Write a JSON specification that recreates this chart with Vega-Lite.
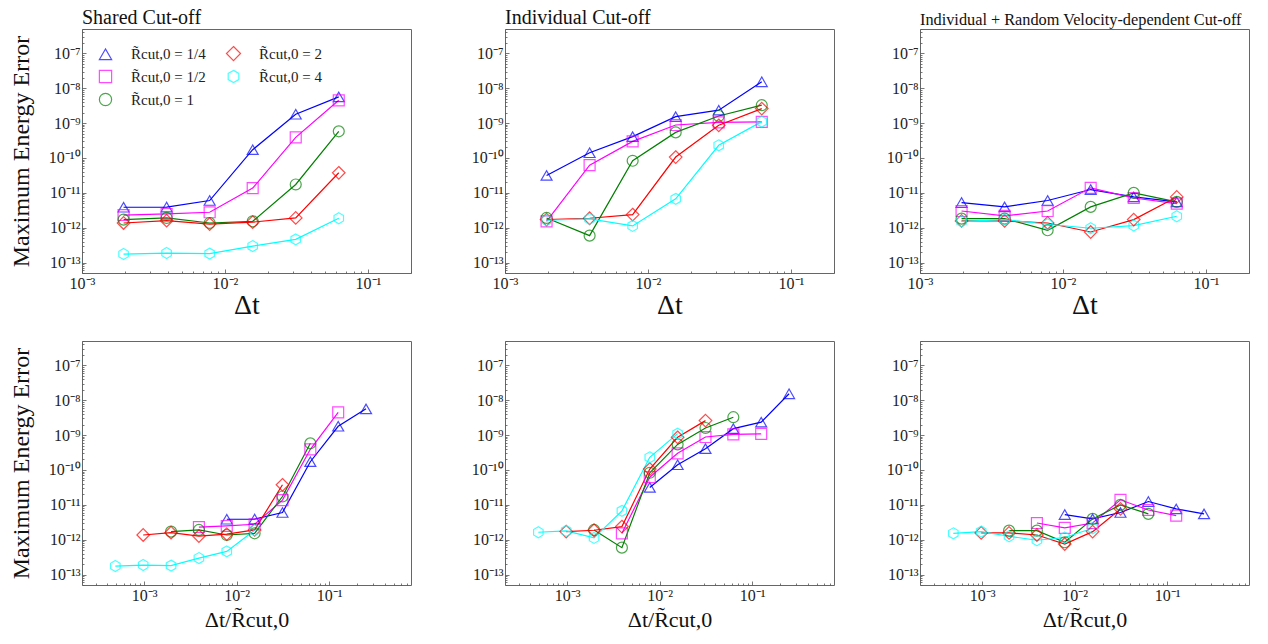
{
"$schema": "https://vega.github.io/schema/vega-lite/v6.json",
"background": "white",
"padding": {"left": 8, "top": 7, "right": 5, "bottom": 2},
"datasets": {"d": [
{"m":"s","R":"1/4","dt":0.001953125,"x2":0.0078125,"e":3.85e-12},
{"m":"s","R":"1/4","dt":0.00390625,"x2":0.015625,"e":3.9e-12},
{"m":"s","R":"1/4","dt":0.0078125,"x2":0.03125,"e":6.0e-12},
{"m":"s","R":"1/4","dt":0.015625,"x2":0.0625,"e":1.72e-10},
{"m":"s","R":"1/4","dt":0.03125,"x2":0.125,"e":1.79e-9},
{"m":"s","R":"1/4","dt":0.0625,"x2":0.25,"e":5.65e-9},
{"m":"s","R":"1/2","dt":0.001953125,"x2":0.00390625,"e":2.3e-12},
{"m":"s","R":"1/2","dt":0.00390625,"x2":0.0078125,"e":2.47e-12},
{"m":"s","R":"1/2","dt":0.0078125,"x2":0.015625,"e":2.76e-12},
{"m":"s","R":"1/2","dt":0.015625,"x2":0.03125,"e":1.36e-11},
{"m":"s","R":"1/2","dt":0.03125,"x2":0.0625,"e":3.9e-10},
{"m":"s","R":"1/2","dt":0.0625,"x2":0.125,"e":4.5e-9},
{"m":"s","R":"1","dt":0.001953125,"x2":0.001953125,"e":1.7e-12},
{"m":"s","R":"1","dt":0.00390625,"x2":0.00390625,"e":1.9e-12},
{"m":"s","R":"1","dt":0.0078125,"x2":0.0078125,"e":1.36e-12},
{"m":"s","R":"1","dt":0.015625,"x2":0.015625,"e":1.52e-12},
{"m":"s","R":"1","dt":0.03125,"x2":0.03125,"e":1.73e-11},
{"m":"s","R":"1","dt":0.0625,"x2":0.0625,"e":5.8e-10},
{"m":"s","R":"2","dt":0.001953125,"x2":0.0009765625,"e":1.36e-12},
{"m":"s","R":"2","dt":0.00390625,"x2":0.001953125,"e":1.58e-12},
{"m":"s","R":"2","dt":0.0078125,"x2":0.00390625,"e":1.27e-12},
{"m":"s","R":"2","dt":0.015625,"x2":0.0078125,"e":1.44e-12},
{"m":"s","R":"2","dt":0.03125,"x2":0.015625,"e":1.9e-12},
{"m":"s","R":"2","dt":0.0625,"x2":0.03125,"e":3.75e-11},
{"m":"s","R":"4","dt":0.001953125,"x2":0.00048828125,"e":1.75e-13},
{"m":"s","R":"4","dt":0.00390625,"x2":0.0009765625,"e":1.87e-13},
{"m":"s","R":"4","dt":0.0078125,"x2":0.001953125,"e":1.8e-13},
{"m":"s","R":"4","dt":0.015625,"x2":0.00390625,"e":2.96e-13},
{"m":"s","R":"4","dt":0.03125,"x2":0.0078125,"e":4.6e-13},
{"m":"s","R":"4","dt":0.0625,"x2":0.015625,"e":1.86e-12},
{"m":"i","R":"1/4","dt":0.001953125,"x2":0.0078125,"e":3.14e-11},
{"m":"i","R":"1/4","dt":0.00390625,"x2":0.015625,"e":1.41e-10},
{"m":"i","R":"1/4","dt":0.0078125,"x2":0.03125,"e":4.08e-10},
{"m":"i","R":"1/4","dt":0.015625,"x2":0.0625,"e":1.53e-9},
{"m":"i","R":"1/4","dt":0.03125,"x2":0.125,"e":2.34e-9},
{"m":"i","R":"1/4","dt":0.0625,"x2":0.25,"e":1.53e-8},
{"m":"i","R":"1/2","dt":0.001953125,"x2":0.00390625,"e":1.52e-12},
{"m":"i","R":"1/2","dt":0.00390625,"x2":0.0078125,"e":6.2e-11},
{"m":"i","R":"1/2","dt":0.0078125,"x2":0.015625,"e":2.99e-10},
{"m":"i","R":"1/2","dt":0.015625,"x2":0.03125,"e":8.8e-10},
{"m":"i","R":"1/2","dt":0.03125,"x2":0.0625,"e":1.05e-9},
{"m":"i","R":"1/2","dt":0.0625,"x2":0.125,"e":1.08e-9},
{"m":"i","R":"1","dt":0.001953125,"x2":0.001953125,"e":1.9e-12},
{"m":"i","R":"1","dt":0.00390625,"x2":0.00390625,"e":5.9e-13},
{"m":"i","R":"1","dt":0.0078125,"x2":0.0078125,"e":8.3e-11},
{"m":"i","R":"1","dt":0.015625,"x2":0.015625,"e":5.4e-10},
{"m":"i","R":"1","dt":0.03125,"x2":0.03125,"e":1.6e-9},
{"m":"i","R":"1","dt":0.0625,"x2":0.0625,"e":3.26e-9},
{"m":"i","R":"2","dt":0.001953125,"x2":0.0009765625,"e":1.7e-12},
{"m":"i","R":"2","dt":0.00390625,"x2":0.001953125,"e":1.86e-12},
{"m":"i","R":"2","dt":0.0078125,"x2":0.00390625,"e":2.37e-12},
{"m":"i","R":"2","dt":0.015625,"x2":0.0078125,"e":1.06e-10},
{"m":"i","R":"2","dt":0.03125,"x2":0.015625,"e":8.65e-10},
{"m":"i","R":"2","dt":0.0625,"x2":0.03125,"e":2.6e-9},
{"m":"i","R":"4","dt":0.001953125,"x2":0.00048828125,"e":1.63e-12},
{"m":"i","R":"4","dt":0.00390625,"x2":0.0009765625,"e":1.78e-12},
{"m":"i","R":"4","dt":0.0078125,"x2":0.001953125,"e":1.12e-12},
{"m":"i","R":"4","dt":0.015625,"x2":0.00390625,"e":6.7e-12},
{"m":"i","R":"4","dt":0.03125,"x2":0.0078125,"e":2.3e-10},
{"m":"i","R":"4","dt":0.0625,"x2":0.015625,"e":1.1e-9},
{"m":"r","R":"1/4","dt":0.001953125,"x2":0.0078125,"e":5.25e-12},
{"m":"r","R":"1/4","dt":0.00390625,"x2":0.015625,"e":3.94e-12},
{"m":"r","R":"1/4","dt":0.0078125,"x2":0.03125,"e":6.0e-12},
{"m":"r","R":"1/4","dt":0.015625,"x2":0.0625,"e":1.24e-11},
{"m":"r","R":"1/4","dt":0.03125,"x2":0.125,"e":7.6e-12},
{"m":"r","R":"1/4","dt":0.0625,"x2":0.25,"e":5.5e-12},
{"m":"r","R":"1/2","dt":0.001953125,"x2":0.00390625,"e":3.0e-12},
{"m":"r","R":"1/2","dt":0.00390625,"x2":0.0078125,"e":2.17e-12},
{"m":"r","R":"1/2","dt":0.0078125,"x2":0.015625,"e":3.0e-12},
{"m":"r","R":"1/2","dt":0.015625,"x2":0.03125,"e":1.39e-11},
{"m":"r","R":"1/2","dt":0.03125,"x2":0.0625,"e":7.1e-12},
{"m":"r","R":"1/2","dt":0.0625,"x2":0.125,"e":4.9e-12},
{"m":"r","R":"1","dt":0.001953125,"x2":0.001953125,"e":1.82e-12},
{"m":"r","R":"1","dt":0.00390625,"x2":0.00390625,"e":1.82e-12},
{"m":"r","R":"1","dt":0.0078125,"x2":0.0078125,"e":8.4e-13},
{"m":"r","R":"1","dt":0.015625,"x2":0.015625,"e":3.94e-12},
{"m":"r","R":"1","dt":0.03125,"x2":0.03125,"e":9.95e-12},
{"m":"r","R":"1","dt":0.0625,"x2":0.0625,"e":5.5e-12},
{"m":"r","R":"2","dt":0.001953125,"x2":0.0009765625,"e":1.56e-12},
{"m":"r","R":"2","dt":0.00390625,"x2":0.001953125,"e":1.56e-12},
{"m":"r","R":"2","dt":0.0078125,"x2":0.00390625,"e":1.36e-12},
{"m":"r","R":"2","dt":0.015625,"x2":0.0078125,"e":7.5e-13},
{"m":"r","R":"2","dt":0.03125,"x2":0.015625,"e":1.7e-12},
{"m":"r","R":"2","dt":0.0625,"x2":0.03125,"e":7.6e-12},
{"m":"r","R":"4","dt":0.001953125,"x2":0.00048828125,"e":1.52e-12},
{"m":"r","R":"4","dt":0.00390625,"x2":0.0009765625,"e":1.7e-12},
{"m":"r","R":"4","dt":0.0078125,"x2":0.001953125,"e":1.25e-12},
{"m":"r","R":"4","dt":0.015625,"x2":0.00390625,"e":9.6e-13},
{"m":"r","R":"4","dt":0.03125,"x2":0.0078125,"e":1.15e-12},
{"m":"r","R":"4","dt":0.0625,"x2":0.015625,"e":2.12e-12}
]},
"data": {"name": "d"},
"config": {
  "view": {"stroke": "#666", "strokeWidth": 1},
  "axis": {"domain": false, "grid": false, "tickColor": "#555", "tickWidth": 0.8, "labelFont": "Liberation Serif", "labelFontSize": 16, "labelColor": "#222", "titleFont": "Liberation Serif", "titleFontWeight": "normal", "titleColor": "#111"},
  "title": {"font": "Liberation Serif", "fontWeight": "normal", "color": "#111", "anchor": "start", "offset": -7, "frame": "group"},
  "legend": {"labelFont": "Liberation Serif", "labelFontSize": 15, "labelColor": "#222"}
},
"vconcat": [
{"hconcat": [
{
 "width": 329, "height": 244,
 "title": {"text": "Shared Cut-off", "fontSize": 20},
 "transform": [{"filter": "datum.m === 's'"}],
 "encoding": {
  "x": {"field": "dt", "type": "quantitative", "scale": {"type": "log", "domain": [0.001, 0.2], "nice": false},
        "axis": {"title": "Δt", "titleFontSize": 28, "values": [0.001,0.002,0.003,0.004,0.005,0.006,0.007,0.008,0.009,0.01,0.02,0.03,0.04,0.05,0.06,0.07,0.08,0.09,0.1,0.2],
                 "labelExpr": "abs(log(datum.value)/LN10 - round(log(datum.value)/LN10)) < 0.001 ? '10⁻' + (round(-log(datum.value)/LN10) >= 10 ? '¹' : '') + substring('⁰¹²³⁴⁵⁶⁷⁸⁹', round(-log(datum.value)/LN10) % 10, round(-log(datum.value)/LN10) % 10 + 1) : ''",
                 "tickSize": {"condition": {"test": "abs(log(datum.value)/LN10 - round(log(datum.value)/LN10)) < 0.001", "value": -4}, "value": -2},
                 "labelFlush": false, "labelOverlap": false, "labelPadding": 6, "titlePadding": -2}},
  "y": {"field": "e", "type": "quantitative", "scale": {"type": "log", "domain": [5e-14, 5e-7], "nice": false},
        "axis": {"title": "Maximum Energy Error", "titleFontSize": 24, "titlePadding": 15, "values": [5e-14,6e-14,7e-14,8e-14,9e-14,1e-13,2e-13,3e-13,4e-13,5e-13,6e-13,7e-13,8e-13,9e-13,1e-12,2e-12,3e-12,4e-12,5e-12,6e-12,7e-12,8e-12,9e-12,1e-11,2e-11,3e-11,4e-11,5e-11,6e-11,7e-11,8e-11,9e-11,1e-10,2e-10,3e-10,4e-10,5e-10,6e-10,7e-10,8e-10,9e-10,1e-9,2e-9,3e-9,4e-9,5e-9,6e-9,7e-9,8e-9,9e-9,1e-8,2e-8,3e-8,4e-8,5e-8,6e-8,7e-8,8e-8,9e-8,1e-7,2e-7,3e-7,4e-7,5e-7],
                 "labelExpr": "abs(log(datum.value)/LN10 - round(log(datum.value)/LN10)) < 0.001 ? '10⁻' + (round(-log(datum.value)/LN10) >= 10 ? '¹' : '') + substring('⁰¹²³⁴⁵⁶⁷⁸⁹', round(-log(datum.value)/LN10) % 10, round(-log(datum.value)/LN10) % 10 + 1) : ''",
                 "tickSize": {"condition": {"test": "abs(log(datum.value)/LN10 - round(log(datum.value)/LN10)) < 0.001", "value": -4}, "value": -2},
                 "labelFlush": false, "labelOverlap": false, "labelPadding": 6}},
  "color": {"field": "R", "type": "nominal", "scale": {"domain": ["1/4","1/2","1","2","4"], "range": ["#0000ff","#ff00ff","#008000","#ff0000","#00ffff"]},
            "legend": {"title": null, "orient": "top-left", "columns": 2, "offset": 17, "padding": 0, "symbolSize": 150, "symbolStrokeWidth": 1.2, "symbolOffset": -1, "labelOffset": 18, "columnPadding": 18, "rowPadding": 4,
                       "labelExpr": "'R̃cut,0 = ' + datum.label"}}
 },
 "layer": [
  {"mark": {"type": "line", "strokeWidth": 1.2}},
  {"mark": {"type": "point", "filled": false, "strokeWidth": 1.2, "size": 120},
   "encoding": {"shape": {"field": "R", "type": "nominal", "scale": {"domain": ["1/4","1/2","1","2","4"], "range": ["triangle-up","square","circle","M0,-1.15L1.15,0L0,1.15L-1.15,0Z","M0,-1L0.866,-0.5L0.866,0.5L0,1L-0.866,0.5L-0.866,-0.5Z"]}, "legend": null}}}
 ]
},
{"hconcat": [
{
 "width": 329, "height": 244,
 "title": {"text": "Individual Cut-off", "fontSize": 20},
 "transform": [{"filter": "datum.m === 'i'"}],
 "encoding": {
  "x": {"field": "dt", "type": "quantitative", "scale": {"type": "log", "domain": [0.001, 0.2], "nice": false},
        "axis": {"title": "Δt", "titleFontSize": 28, "values": [0.001,0.002,0.003,0.004,0.005,0.006,0.007,0.008,0.009,0.01,0.02,0.03,0.04,0.05,0.06,0.07,0.08,0.09,0.1,0.2],
                 "labelExpr": "abs(log(datum.value)/LN10 - round(log(datum.value)/LN10)) < 0.001 ? '10⁻' + (round(-log(datum.value)/LN10) >= 10 ? '¹' : '') + substring('⁰¹²³⁴⁵⁶⁷⁸⁹', round(-log(datum.value)/LN10) % 10, round(-log(datum.value)/LN10) % 10 + 1) : ''",
                 "tickSize": {"condition": {"test": "abs(log(datum.value)/LN10 - round(log(datum.value)/LN10)) < 0.001", "value": -4}, "value": -2},
                 "labelFlush": false, "labelOverlap": false, "labelPadding": 6, "titlePadding": -2}},
  "y": {"field": "e", "type": "quantitative", "scale": {"type": "log", "domain": [5e-14, 5e-7], "nice": false},
        "axis": {"title": null, "values": [5e-14,6e-14,7e-14,8e-14,9e-14,1e-13,2e-13,3e-13,4e-13,5e-13,6e-13,7e-13,8e-13,9e-13,1e-12,2e-12,3e-12,4e-12,5e-12,6e-12,7e-12,8e-12,9e-12,1e-11,2e-11,3e-11,4e-11,5e-11,6e-11,7e-11,8e-11,9e-11,1e-10,2e-10,3e-10,4e-10,5e-10,6e-10,7e-10,8e-10,9e-10,1e-9,2e-9,3e-9,4e-9,5e-9,6e-9,7e-9,8e-9,9e-9,1e-8,2e-8,3e-8,4e-8,5e-8,6e-8,7e-8,8e-8,9e-8,1e-7,2e-7,3e-7,4e-7,5e-7],
                 "labelExpr": "abs(log(datum.value)/LN10 - round(log(datum.value)/LN10)) < 0.001 ? '10⁻' + (round(-log(datum.value)/LN10) >= 10 ? '¹' : '') + substring('⁰¹²³⁴⁵⁶⁷⁸⁹', round(-log(datum.value)/LN10) % 10, round(-log(datum.value)/LN10) % 10 + 1) : ''",
                 "tickSize": {"condition": {"test": "abs(log(datum.value)/LN10 - round(log(datum.value)/LN10)) < 0.001", "value": -4}, "value": -2},
                 "labelFlush": false, "labelOverlap": false, "labelPadding": 6}},
  "color": {"field": "R", "type": "nominal", "scale": {"domain": ["1/4","1/2","1","2","4"], "range": ["#0000ff","#ff00ff","#008000","#ff0000","#00ffff"]}, "legend": null}
 },
 "layer": [
  {"mark": {"type": "line", "strokeWidth": 1.2}},
  {"mark": {"type": "point", "filled": false, "strokeWidth": 1.2, "size": 120},
   "encoding": {"shape": {"field": "R", "type": "nominal", "scale": {"domain": ["1/4","1/2","1","2","4"], "range": ["triangle-up","square","circle","M0,-1.15L1.15,0L0,1.15L-1.15,0Z","M0,-1L0.866,-0.5L0.866,0.5L0,1L-0.866,0.5L-0.866,-0.5Z"]}, "legend": null}}}
 ]
},
{
 "width": 329, "height": 244,
 "title": {"text": "Individual + Random Velocity-dependent Cut-off", "fontSize": 16.3},
 "transform": [{"filter": "datum.m === 'r'"}],
 "encoding": {
  "x": {"field": "dt", "type": "quantitative", "scale": {"type": "log", "domain": [0.001, 0.2], "nice": false},
        "axis": {"title": "Δt", "titleFontSize": 28, "values": [0.001,0.002,0.003,0.004,0.005,0.006,0.007,0.008,0.009,0.01,0.02,0.03,0.04,0.05,0.06,0.07,0.08,0.09,0.1,0.2],
                 "labelExpr": "abs(log(datum.value)/LN10 - round(log(datum.value)/LN10)) < 0.001 ? '10⁻' + (round(-log(datum.value)/LN10) >= 10 ? '¹' : '') + substring('⁰¹²³⁴⁵⁶⁷⁸⁹', round(-log(datum.value)/LN10) % 10, round(-log(datum.value)/LN10) % 10 + 1) : ''",
                 "tickSize": {"condition": {"test": "abs(log(datum.value)/LN10 - round(log(datum.value)/LN10)) < 0.001", "value": -4}, "value": -2},
                 "labelFlush": false, "labelOverlap": false, "labelPadding": 6, "titlePadding": -2}},
  "y": {"field": "e", "type": "quantitative", "scale": {"type": "log", "domain": [5e-14, 5e-7], "nice": false},
        "axis": {"title": null, "values": [5e-14,6e-14,7e-14,8e-14,9e-14,1e-13,2e-13,3e-13,4e-13,5e-13,6e-13,7e-13,8e-13,9e-13,1e-12,2e-12,3e-12,4e-12,5e-12,6e-12,7e-12,8e-12,9e-12,1e-11,2e-11,3e-11,4e-11,5e-11,6e-11,7e-11,8e-11,9e-11,1e-10,2e-10,3e-10,4e-10,5e-10,6e-10,7e-10,8e-10,9e-10,1e-9,2e-9,3e-9,4e-9,5e-9,6e-9,7e-9,8e-9,9e-9,1e-8,2e-8,3e-8,4e-8,5e-8,6e-8,7e-8,8e-8,9e-8,1e-7,2e-7,3e-7,4e-7,5e-7],
                 "labelExpr": "abs(log(datum.value)/LN10 - round(log(datum.value)/LN10)) < 0.001 ? '10⁻' + (round(-log(datum.value)/LN10) >= 10 ? '¹' : '') + substring('⁰¹²³⁴⁵⁶⁷⁸⁹', round(-log(datum.value)/LN10) % 10, round(-log(datum.value)/LN10) % 10 + 1) : ''",
                 "tickSize": {"condition": {"test": "abs(log(datum.value)/LN10 - round(log(datum.value)/LN10)) < 0.001", "value": -4}, "value": -2},
                 "labelFlush": false, "labelOverlap": false, "labelPadding": 6}},
  "color": {"field": "R", "type": "nominal", "scale": {"domain": ["1/4","1/2","1","2","4"], "range": ["#0000ff","#ff00ff","#008000","#ff0000","#00ffff"]}, "legend": null}
 },
 "layer": [
  {"mark": {"type": "line", "strokeWidth": 1.2}},
  {"mark": {"type": "point", "filled": false, "strokeWidth": 1.2, "size": 120},
   "encoding": {"shape": {"field": "R", "type": "nominal", "scale": {"domain": ["1/4","1/2","1","2","4"], "range": ["triangle-up","square","circle","M0,-1.15L1.15,0L0,1.15L-1.15,0Z","M0,-1L0.866,-0.5L0.866,0.5L0,1L-0.866,0.5L-0.866,-0.5Z"]}, "legend": null}}}
 ]
}
], "spacing": 50, "align": "none", "resolve": {"scale": {"color": "independent", "shape": "independent"}}}
], "spacing": 58, "align": "none", "resolve": {"scale": {"color": "independent", "shape": "independent"}}},
{"hconcat": [
{
 "width": 329, "height": 244,
 "transform": [{"filter": "datum.m === 's'"}],
 "encoding": {
  "x": {"field": "x2", "type": "quantitative", "scale": {"type": "log", "domain": [0.000213, 0.765], "nice": false},
        "axis": {"title": "Δt/R̃cut,0", "titleFontSize": 22, "values": [0.0003,0.0004,0.0005,0.0006,0.0007,0.0008,0.0009,0.001,0.002,0.003,0.004,0.005,0.006,0.007,0.008,0.009,0.01,0.02,0.03,0.04,0.05,0.06,0.07,0.08,0.09,0.1,0.2,0.3,0.4,0.5,0.6,0.7],
                 "labelExpr": "abs(log(datum.value)/LN10 - round(log(datum.value)/LN10)) < 0.001 ? '10⁻' + (round(-log(datum.value)/LN10) >= 10 ? '¹' : '') + substring('⁰¹²³⁴⁵⁶⁷⁸⁹', round(-log(datum.value)/LN10) % 10, round(-log(datum.value)/LN10) % 10 + 1) : ''",
                 "tickSize": {"condition": {"test": "abs(log(datum.value)/LN10 - round(log(datum.value)/LN10)) < 0.001", "value": -4}, "value": -2},
                 "labelFlush": false, "labelOverlap": false, "labelPadding": 6, "titlePadding": 4}},
  "y": {"field": "e", "type": "quantitative", "scale": {"type": "log", "domain": [5e-14, 5e-7], "nice": false},
        "axis": {"title": "Maximum Energy Error", "titleFontSize": 24, "titlePadding": 15, "values": [5e-14,6e-14,7e-14,8e-14,9e-14,1e-13,2e-13,3e-13,4e-13,5e-13,6e-13,7e-13,8e-13,9e-13,1e-12,2e-12,3e-12,4e-12,5e-12,6e-12,7e-12,8e-12,9e-12,1e-11,2e-11,3e-11,4e-11,5e-11,6e-11,7e-11,8e-11,9e-11,1e-10,2e-10,3e-10,4e-10,5e-10,6e-10,7e-10,8e-10,9e-10,1e-9,2e-9,3e-9,4e-9,5e-9,6e-9,7e-9,8e-9,9e-9,1e-8,2e-8,3e-8,4e-8,5e-8,6e-8,7e-8,8e-8,9e-8,1e-7,2e-7,3e-7,4e-7,5e-7],
                 "labelExpr": "abs(log(datum.value)/LN10 - round(log(datum.value)/LN10)) < 0.001 ? '10⁻' + (round(-log(datum.value)/LN10) >= 10 ? '¹' : '') + substring('⁰¹²³⁴⁵⁶⁷⁸⁹', round(-log(datum.value)/LN10) % 10, round(-log(datum.value)/LN10) % 10 + 1) : ''",
                 "tickSize": {"condition": {"test": "abs(log(datum.value)/LN10 - round(log(datum.value)/LN10)) < 0.001", "value": -4}, "value": -2},
                 "labelFlush": false, "labelOverlap": false, "labelPadding": 6}},
  "color": {"field": "R", "type": "nominal", "scale": {"domain": ["1/4","1/2","1","2","4"], "range": ["#0000ff","#ff00ff","#008000","#ff0000","#00ffff"]}, "legend": null}
 },
 "layer": [
  {"mark": {"type": "line", "strokeWidth": 1.2}},
  {"mark": {"type": "point", "filled": false, "strokeWidth": 1.2, "size": 120},
   "encoding": {"shape": {"field": "R", "type": "nominal", "scale": {"domain": ["1/4","1/2","1","2","4"], "range": ["triangle-up","square","circle","M0,-1.15L1.15,0L0,1.15L-1.15,0Z","M0,-1L0.866,-0.5L0.866,0.5L0,1L-0.866,0.5L-0.866,-0.5Z"]}, "legend": null}}}
 ]
},
{"hconcat": [
{
 "width": 329, "height": 244,
 "transform": [{"filter": "datum.m === 'i'"}],
 "encoding": {
  "x": {"field": "x2", "type": "quantitative", "scale": {"type": "log", "domain": [0.000213, 0.765], "nice": false},
        "axis": {"title": "Δt/R̃cut,0", "titleFontSize": 22, "values": [0.0003,0.0004,0.0005,0.0006,0.0007,0.0008,0.0009,0.001,0.002,0.003,0.004,0.005,0.006,0.007,0.008,0.009,0.01,0.02,0.03,0.04,0.05,0.06,0.07,0.08,0.09,0.1,0.2,0.3,0.4,0.5,0.6,0.7],
                 "labelExpr": "abs(log(datum.value)/LN10 - round(log(datum.value)/LN10)) < 0.001 ? '10⁻' + (round(-log(datum.value)/LN10) >= 10 ? '¹' : '') + substring('⁰¹²³⁴⁵⁶⁷⁸⁹', round(-log(datum.value)/LN10) % 10, round(-log(datum.value)/LN10) % 10 + 1) : ''",
                 "tickSize": {"condition": {"test": "abs(log(datum.value)/LN10 - round(log(datum.value)/LN10)) < 0.001", "value": -4}, "value": -2},
                 "labelFlush": false, "labelOverlap": false, "labelPadding": 6, "titlePadding": 4}},
  "y": {"field": "e", "type": "quantitative", "scale": {"type": "log", "domain": [5e-14, 5e-7], "nice": false},
        "axis": {"title": null, "values": [5e-14,6e-14,7e-14,8e-14,9e-14,1e-13,2e-13,3e-13,4e-13,5e-13,6e-13,7e-13,8e-13,9e-13,1e-12,2e-12,3e-12,4e-12,5e-12,6e-12,7e-12,8e-12,9e-12,1e-11,2e-11,3e-11,4e-11,5e-11,6e-11,7e-11,8e-11,9e-11,1e-10,2e-10,3e-10,4e-10,5e-10,6e-10,7e-10,8e-10,9e-10,1e-9,2e-9,3e-9,4e-9,5e-9,6e-9,7e-9,8e-9,9e-9,1e-8,2e-8,3e-8,4e-8,5e-8,6e-8,7e-8,8e-8,9e-8,1e-7,2e-7,3e-7,4e-7,5e-7],
                 "labelExpr": "abs(log(datum.value)/LN10 - round(log(datum.value)/LN10)) < 0.001 ? '10⁻' + (round(-log(datum.value)/LN10) >= 10 ? '¹' : '') + substring('⁰¹²³⁴⁵⁶⁷⁸⁹', round(-log(datum.value)/LN10) % 10, round(-log(datum.value)/LN10) % 10 + 1) : ''",
                 "tickSize": {"condition": {"test": "abs(log(datum.value)/LN10 - round(log(datum.value)/LN10)) < 0.001", "value": -4}, "value": -2},
                 "labelFlush": false, "labelOverlap": false, "labelPadding": 6}},
  "color": {"field": "R", "type": "nominal", "scale": {"domain": ["1/4","1/2","1","2","4"], "range": ["#0000ff","#ff00ff","#008000","#ff0000","#00ffff"]}, "legend": null}
 },
 "layer": [
  {"mark": {"type": "line", "strokeWidth": 1.2}},
  {"mark": {"type": "point", "filled": false, "strokeWidth": 1.2, "size": 120},
   "encoding": {"shape": {"field": "R", "type": "nominal", "scale": {"domain": ["1/4","1/2","1","2","4"], "range": ["triangle-up","square","circle","M0,-1.15L1.15,0L0,1.15L-1.15,0Z","M0,-1L0.866,-0.5L0.866,0.5L0,1L-0.866,0.5L-0.866,-0.5Z"]}, "legend": null}}}
 ]
},
{
 "width": 329, "height": 244,
 "transform": [{"filter": "datum.m === 'r'"}],
 "encoding": {
  "x": {"field": "x2", "type": "quantitative", "scale": {"type": "log", "domain": [0.000213, 0.765], "nice": false},
        "axis": {"title": "Δt/R̃cut,0", "titleFontSize": 22, "values": [0.0003,0.0004,0.0005,0.0006,0.0007,0.0008,0.0009,0.001,0.002,0.003,0.004,0.005,0.006,0.007,0.008,0.009,0.01,0.02,0.03,0.04,0.05,0.06,0.07,0.08,0.09,0.1,0.2,0.3,0.4,0.5,0.6,0.7],
                 "labelExpr": "abs(log(datum.value)/LN10 - round(log(datum.value)/LN10)) < 0.001 ? '10⁻' + (round(-log(datum.value)/LN10) >= 10 ? '¹' : '') + substring('⁰¹²³⁴⁵⁶⁷⁸⁹', round(-log(datum.value)/LN10) % 10, round(-log(datum.value)/LN10) % 10 + 1) : ''",
                 "tickSize": {"condition": {"test": "abs(log(datum.value)/LN10 - round(log(datum.value)/LN10)) < 0.001", "value": -4}, "value": -2},
                 "labelFlush": false, "labelOverlap": false, "labelPadding": 6, "titlePadding": 4}},
  "y": {"field": "e", "type": "quantitative", "scale": {"type": "log", "domain": [5e-14, 5e-7], "nice": false},
        "axis": {"title": null, "values": [5e-14,6e-14,7e-14,8e-14,9e-14,1e-13,2e-13,3e-13,4e-13,5e-13,6e-13,7e-13,8e-13,9e-13,1e-12,2e-12,3e-12,4e-12,5e-12,6e-12,7e-12,8e-12,9e-12,1e-11,2e-11,3e-11,4e-11,5e-11,6e-11,7e-11,8e-11,9e-11,1e-10,2e-10,3e-10,4e-10,5e-10,6e-10,7e-10,8e-10,9e-10,1e-9,2e-9,3e-9,4e-9,5e-9,6e-9,7e-9,8e-9,9e-9,1e-8,2e-8,3e-8,4e-8,5e-8,6e-8,7e-8,8e-8,9e-8,1e-7,2e-7,3e-7,4e-7,5e-7],
                 "labelExpr": "abs(log(datum.value)/LN10 - round(log(datum.value)/LN10)) < 0.001 ? '10⁻' + (round(-log(datum.value)/LN10) >= 10 ? '¹' : '') + substring('⁰¹²³⁴⁵⁶⁷⁸⁹', round(-log(datum.value)/LN10) % 10, round(-log(datum.value)/LN10) % 10 + 1) : ''",
                 "tickSize": {"condition": {"test": "abs(log(datum.value)/LN10 - round(log(datum.value)/LN10)) < 0.001", "value": -4}, "value": -2},
                 "labelFlush": false, "labelOverlap": false, "labelPadding": 6}},
  "color": {"field": "R", "type": "nominal", "scale": {"domain": ["1/4","1/2","1","2","4"], "range": ["#0000ff","#ff00ff","#008000","#ff0000","#00ffff"]}, "legend": null}
 },
 "layer": [
  {"mark": {"type": "line", "strokeWidth": 1.2}},
  {"mark": {"type": "point", "filled": false, "strokeWidth": 1.2, "size": 120},
   "encoding": {"shape": {"field": "R", "type": "nominal", "scale": {"domain": ["1/4","1/2","1","2","4"], "range": ["triangle-up","square","circle","M0,-1.15L1.15,0L0,1.15L-1.15,0Z","M0,-1L0.866,-0.5L0.866,0.5L0,1L-0.866,0.5L-0.866,-0.5Z"]}, "legend": null}}}
 ]
}
], "spacing": 50, "align": "none", "resolve": {"scale": {"color": "independent", "shape": "independent"}}}
], "spacing": 58, "align": "none", "resolve": {"scale": {"color": "independent", "shape": "independent"}}}
],
"spacing": 12
}
